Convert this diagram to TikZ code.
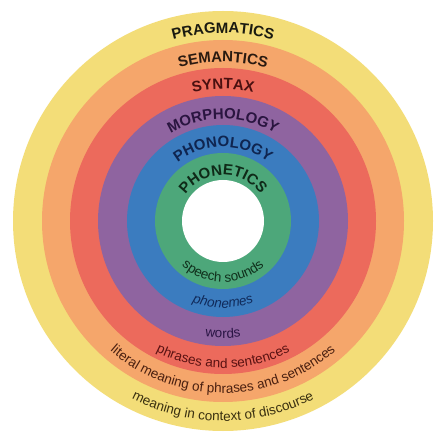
\documentclass[tikz,border=0pt]{standalone}
\usepackage{fontspec}
\setmainfont{Liberation Sans}
\usetikzlibrary{decorations.text}
\definecolor{cYellow}{HTML}{F3DD78}
\definecolor{cOrange}{HTML}{F5A66B}
\definecolor{cRed}{HTML}{EC6A5C}
\definecolor{cPurple}{HTML}{8F64A0}
\definecolor{cBlue}{HTML}{3B7CBF}
\definecolor{cGreen}{HTML}{4DA77A}
\definecolor{tPrag}{HTML}{1A1A10}
\definecolor{tSem}{HTML}{2A1A10}
\definecolor{tSyn}{HTML}{4A1010}
\definecolor{tMor}{HTML}{2A1540}
\definecolor{tPhl}{HTML}{0F2550}
\definecolor{tPht}{HTML}{0F2A18}
\definecolor{tSpe}{HTML}{10301C}
\definecolor{tPhn}{HTML}{102A5A}
\definecolor{tWor}{HTML}{2A1545}
\definecolor{tPhr}{HTML}{5A1212}
\definecolor{tLit}{HTML}{4A2010}
\definecolor{tMea}{HTML}{3A3010}
\newcommand\headfnt{\fontsize{15}{18}\selectfont\bfseries}
\newcommand\labfnt{\fontsize{13.5}{16}\selectfont}
\newcommand\toplab[3]{%
  \path[decorate, decoration={text along path, text align=center,
    text color=#3, text={|\headfnt|#2}}]
    ([shift={(175:#1pt)}]O) arc[start angle=175, end angle=5, radius=#1pt];}
\newcommand\botlab[4][]{%
  \path[decorate, decoration={text along path, text align=center,
    text color=#4, text={|\labfnt#1|#3}}]
    ([shift={(185:#2pt)}]O) arc[start angle=185, end angle=355, radius=#2pt];}
\begin{document}
\begin{tikzpicture}[ring/.style={fill=#1, draw=none}]
\useasboundingbox (0,0) rectangle (444pt,442pt);
\fill[white] (0,0) rectangle (444pt,442pt);
\coordinate (O) at (223pt,221pt);
\fill[ring=cYellow] (O) circle[radius=210pt];
\fill[ring=cOrange] (O) circle[radius=181pt];
\fill[ring=cRed]    (O) circle[radius=153pt];
\fill[ring=cPurple] (O) circle[radius=125pt];
\fill[ring=cBlue]   (O) circle[radius=96pt];
\fill[ring=cGreen]  (O) circle[radius=68pt];
\fill[ring=white]   (O) circle[radius=41pt];
\toplab{188}{PRAGMATICS}{tPrag}
\toplab{159}{SEMANTICS}{tSem}
\toplab{132}{SYNTAX}{tSyn}
\toplab{102}{MORPHOLOGY}{tMor}
\toplab{74}{PHONOLOGY}{tPhl}
\toplab{46}{PHONETICS}{tPht}
\botlab{61}{speech sounds}{tSpe}
\botlab[\itshape]{87}{phonemes}{tPhn}
\botlab{117}{words}{tWor}
\botlab{147}{phrases and sentences}{tPhr}
\botlab{172}{literal meaning of phrases and sentences}{tLit}
\botlab{200}{meaning in context of discourse}{tMea}
\end{tikzpicture}
\end{document}
